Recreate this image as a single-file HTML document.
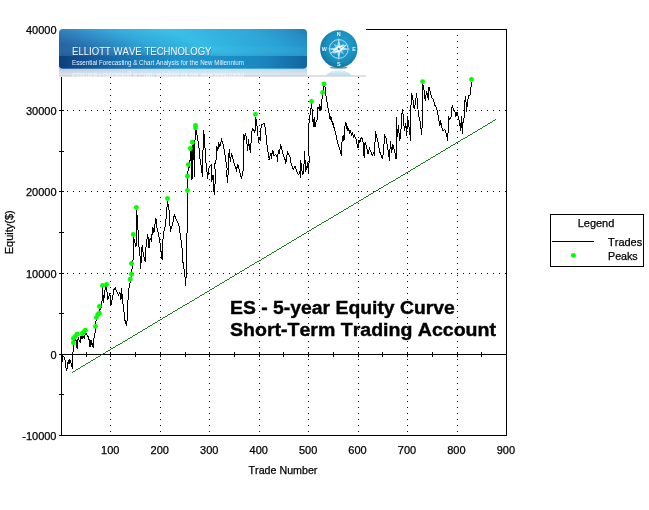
<!DOCTYPE html>
<html><head><meta charset="utf-8"><title>ES - 5-year Equity Curve</title>
<style>
html,body{margin:0;padding:0;background:#fff;}
body{width:649px;height:510px;overflow:hidden;position:relative;font-family:"Liberation Sans",Arial,sans-serif;}
svg{position:absolute;left:0;top:0;display:block}
text{font-family:"Liberation Sans",Arial,sans-serif;fill:#000;font-kerning:none}
.ax{font-size:11px;stroke:#000;stroke-width:0.25px}
.ttl{font-size:19.2px;font-weight:bold;stroke:#000;stroke-width:0.4px}
</style></head><body>
<svg width="649" height="510" viewBox="0 0 649 510">
<defs>
<linearGradient id="bg" x1="0" y1="0.35" x2="1" y2="0">
<stop offset="0" stop-color="#2464a2"/><stop offset="0.1" stop-color="#2779b6"/><stop offset="0.3" stop-color="#2ea6d9"/><stop offset="0.5" stop-color="#33bce6"/><stop offset="0.78" stop-color="#27a1d5"/><stop offset="0.92" stop-color="#1f8ac2"/><stop offset="1" stop-color="#176fa8"/>
</linearGradient>
<linearGradient id="bg2" x1="0" y1="0" x2="1" y2="0">
<stop offset="0" stop-color="#0d3f7e"/><stop offset="0.25" stop-color="#176fb0"/><stop offset="0.5" stop-color="#1f96ce"/><stop offset="0.8" stop-color="#1b88c2"/><stop offset="1" stop-color="#12669f"/>
</linearGradient>
<linearGradient id="sh" x1="0" y1="0" x2="0" y2="1">
<stop offset="0" stop-color="#ffffff" stop-opacity="0.06"/><stop offset="0.6" stop-color="#ffffff" stop-opacity="0"/><stop offset="1" stop-color="#0a3060" stop-opacity="0.12"/>
</linearGradient>
<linearGradient id="rf" x1="0" y1="0" x2="0" y2="1">
<stop offset="0" stop-color="#ffffff" stop-opacity="0.66"/><stop offset="1" stop-color="#f2f3f5" stop-opacity="0.93"/>
</linearGradient>
<radialGradient id="cg" cx="0.55" cy="0.42" r="0.6">
<stop offset="0" stop-color="#24a3cf"/><stop offset="0.65" stop-color="#1a90bf"/><stop offset="1" stop-color="#13739d"/>
</radialGradient>
</defs>

<g fill="#000" shape-rendering="crispEdges">
<line x1="110.5" y1="35" x2="110.5" y2="435" stroke="#000" stroke-width="1" stroke-dasharray="1 5"/>
<line x1="160.5" y1="35" x2="160.5" y2="435" stroke="#000" stroke-width="1" stroke-dasharray="1 5"/>
<line x1="209.5" y1="35" x2="209.5" y2="435" stroke="#000" stroke-width="1" stroke-dasharray="1 5"/>
<line x1="259.5" y1="35" x2="259.5" y2="435" stroke="#000" stroke-width="1" stroke-dasharray="1 5"/>
<line x1="308.5" y1="35" x2="308.5" y2="435" stroke="#000" stroke-width="1" stroke-dasharray="1 5"/>
<line x1="358.5" y1="35" x2="358.5" y2="435" stroke="#000" stroke-width="1" stroke-dasharray="1 5"/>
<line x1="407.5" y1="35" x2="407.5" y2="435" stroke="#000" stroke-width="1" stroke-dasharray="1 5"/>
<line x1="457.5" y1="35" x2="457.5" y2="435" stroke="#000" stroke-width="1" stroke-dasharray="1 5"/>
<line x1="67" y1="110.5" x2="506" y2="110.5" stroke="#000" stroke-width="1" stroke-dasharray="1 5"/>
<line x1="67" y1="191.5" x2="506" y2="191.5" stroke="#000" stroke-width="1" stroke-dasharray="1 5"/>
<line x1="67" y1="273.5" x2="506" y2="273.5" stroke="#000" stroke-width="1" stroke-dasharray="1 5"/>
</g>
<g stroke="#000" stroke-width="1" fill="none" shape-rendering="crispEdges">
<rect x="61.5" y="29.5" width="445" height="406"/>
<line x1="61" y1="354.5" x2="507" y2="354.5"/>
<line x1="86.5" y1="352" x2="86.5" y2="357"/>
<line x1="110.5" y1="352" x2="110.5" y2="357"/>
<line x1="135.5" y1="352" x2="135.5" y2="357"/>
<line x1="160.5" y1="352" x2="160.5" y2="357"/>
<line x1="185.5" y1="352" x2="185.5" y2="357"/>
<line x1="209.5" y1="352" x2="209.5" y2="357"/>
<line x1="234.5" y1="352" x2="234.5" y2="357"/>
<line x1="259.5" y1="352" x2="259.5" y2="357"/>
<line x1="283.5" y1="352" x2="283.5" y2="357"/>
<line x1="308.5" y1="352" x2="308.5" y2="357"/>
<line x1="333.5" y1="352" x2="333.5" y2="357"/>
<line x1="358.5" y1="352" x2="358.5" y2="357"/>
<line x1="382.5" y1="352" x2="382.5" y2="357"/>
<line x1="407.5" y1="352" x2="407.5" y2="357"/>
<line x1="432.5" y1="352" x2="432.5" y2="357"/>
<line x1="457.5" y1="352" x2="457.5" y2="357"/>
<line x1="481.5" y1="352" x2="481.5" y2="357"/>
<line x1="59" y1="29.5" x2="64" y2="29.5"/>
<line x1="59" y1="70.5" x2="64" y2="70.5"/>
<line x1="59" y1="110.5" x2="64" y2="110.5"/>
<line x1="59" y1="151.5" x2="64" y2="151.5"/>
<line x1="59" y1="191.5" x2="64" y2="191.5"/>
<line x1="59" y1="232.5" x2="64" y2="232.5"/>
<line x1="59" y1="273.5" x2="64" y2="273.5"/>
<line x1="59" y1="313.5" x2="64" y2="313.5"/>
<line x1="59" y1="354.5" x2="64" y2="354.5"/>
<line x1="59" y1="394.5" x2="64" y2="394.5"/>
<line x1="59" y1="435.5" x2="64" y2="435.5"/>
</g>
<line x1="72.3" y1="372.4" x2="496" y2="119.4" stroke="#006c00" stroke-width="0.9" shape-rendering="crispEdges"/>
<polyline points="61.9,354.6 62.2,361.6 62.7,355.8 64.2,357.3 65.0,360.4 65.5,365.8 66.5,369.7 67.3,368.1 67.7,361.6 68.3,364.3 69.2,359.3 69.9,363.5 70.6,361.6 71.6,365.0 72.3,368.5 72.7,364.3 72.9,354.2 73.4,346.7 73.7,342.4 75.3,339.9 76.2,340.5 77.1,348.5 77.7,340.5 78.3,338.0 79.3,340.5 80.5,342.4 80.8,335.6 82.4,339.3 82.7,336.2 84.2,338.4 84.8,335.3 86.1,333.4 87.3,335.3 88.5,337.1 89.1,339.9 89.8,346.7 90.4,340.5 90.7,347.3 91.6,340.5 92.2,344.8 93.5,347.6 93.7,338.4 94.7,337.4 95.0,332.8 95.5,328.2 95.3,326.5 96.3,319.3 97.6,315.6 99.4,310.7 101.3,307.0 102.2,299.6 102.5,286.0 103.5,303.3 104.3,294.7 105.2,288.5 106.2,286.0 106.6,285.4 107.2,294.7 107.7,299.6 108.7,297.1 109.9,293.4 110.9,305.1 111.7,302.1 113.0,294.7 114.2,288.5 115.4,287.9 116.7,291.6 118.5,294.7 119.8,292.2 121.0,299.6 121.6,287.9 122.5,300.8 123.5,307.0 124.7,319.3 126.5,326.1 127.2,319.3 127.8,302.1 129.0,288.5 130.2,282.3 131.5,273.7 131.7,274.4 132.3,264.5 133.3,258.3 133.6,246.0 133.3,235.5 134.5,241.6 136.0,246.6 136.6,209.6 137.9,226.8 138.5,244.1 139.7,250.3 140.7,269.4 141.6,250.3 142.2,245.3 143.4,255.2 145.3,262.0 146.1,245.3 147.7,234.2 149.0,247.8 150.2,237.9 151.4,241.6 152.7,226.8 153.9,233.0 155.8,217.6 157.0,228.1 158.2,233.0 159.5,239.2 161.3,252.7 162.2,260.2 162.5,242.9 163.8,231.8 165.0,226.8 166.2,217.0 167.5,200.9 168.7,208.3 169.3,212.0 170.3,231.8 171.8,226.8 173.0,221.9 174.3,214.5 176.1,219.4 178.0,223.1 179.2,226.8 180.4,235.5 181.7,245.3 182.9,254.0 182.3,255.9 183.5,267.0 184.7,270.7 185.4,285.5 186.0,278.1 186.6,273.1 186.8,246.0 186.6,234.2 187.2,233.0 187.2,196.0 187.5,172 188.4,170 189.6,165 190.8,152 191.5,148 192,179.7 192.6,146 193.5,143 194.5,176.6 195,140 195.7,126 195.7,128.5 197.0,134.7 198.8,145.8 200.0,159.3 201.3,166.7 202.5,177.3 203.4,130.3 204.4,135.9 205.6,159.3 206.8,169.2 207.4,178.5 209.3,166.7 210.5,165.5 211.8,164.3 211.8,181.6 213.0,174.8 214.2,194.5 215.5,178.5 214.8,164.3 216.1,159.3 216.7,145.8 217.9,150.7 218.5,142.1 219.8,147.0 221.6,139.6 223.5,145.8 224.7,153.2 225.9,161.8 227.2,169.2 226.6,172.3 227.5,182.8 228.4,169.9 228.4,159.3 229.3,149.5 230.3,161.8 231.5,153.2 232.7,158.1 234.0,163.0 235.2,166.7 236.4,170.4 237.7,164.3 239.5,171.1 241.4,178.5 243.2,169.9 243.1,162.0 243.5,134.5 244.3,139.5 245.3,132.7 246.2,137.0 246.8,141.9 247.6,150.6 248.6,139.5 249.2,145.6 250.5,153.0 251.3,137.0 252.3,128.4 253.6,129.6 254.5,133.3 255.4,128.4 255.8,117.3 256.6,122.2 257.5,129.6 258.5,143.2 259.5,137.0 260.3,140.7 261.2,124.7 262.8,124.0 264.4,123.4 265.3,128.4 266.1,135.8 267.1,145.6 268.1,153.0 269.3,159.2 269.0,159.2 270.6,154.3 271.4,156.7 272.7,149.9 273.9,155.5 275.8,154.3 277.0,156.7 277.6,162.3 278.2,150.6 279.2,154.3 280.7,144.4 281.9,149.3 283.2,154.3 284.4,158.0 285.4,160.4 285.6,164.2 287.5,151.8 288.7,154.3 290.3,158.0 290.6,161.1 291.8,165.4 293.3,169.1 294.9,166.0 296.1,169.7 297.3,172.8 298.6,174.7 299.8,171.6 300.4,178.4 300.7,160.5 301.7,167.3 302.3,174.7 303.5,173.4 304.7,151.2 305.4,171.0 306.6,169.1 307.6,162.3 308.4,173.4 309.1,161.1 308.6,132.0 309.2,119.3 310.5,111.9 311.5,103.3 312.3,111.9 313.3,126.7 314.2,116.9 315.0,126.7 316.0,121.8 317.3,119.3 317.9,107.0 319.1,109.5 319.7,104.5 321.0,110.7 321.6,102.1 322.6,94.7 323.4,88.5 324.0,84.8 325.3,87.3 326.1,97.1 327.7,105.8 329.0,113.2 330.2,118.1 331.4,119.3 332.7,123.0 333.9,126.7 335.1,130.4 329.3,114.9 330.1,119.2 330.8,116.2 331.6,120.5 332.7,122.3 334.5,128.5 336.4,137.1 338.2,144.5 340.1,150.7 341.3,155.6 341.9,143.3 342.7,136.5 343.2,140.8 343.8,135.3 344.1,139.6 345.0,126.0 345.9,122.3 346.6,128.5 347.1,126.6 348.1,131.0 348.8,129.1 349.8,132.8 350.6,131.2 351.8,135.3 352.5,133.4 353.8,137.4 354.5,135.6 356.1,139.6 357.3,145.8 358.2,148.2 358.9,139.6 359.8,143.3 360.7,138.4 361.7,137.7 362.9,140.8 364.1,157.5 365.1,142.1 366.6,147.0 368.1,154.4 369.3,148.2 370.5,150.7 372.1,155.6 373.4,153.2 374.4,155.0 375.5,131.4 376.8,137.0 378.0,141.9 379.2,149.3 380.5,154.3 382.3,158.0 383.6,153.0 384.5,134.5 386.0,138.2 387.3,145.6 388.5,153.0 389.5,161.0 390.0,149.3 390.3,140.7 391.6,153.0 392.8,144.4 394.0,149.3 395.3,154.3 396.1,159.2 396.5,117.3 397.4,137.0 398.4,124.7 399.6,140.7 400.8,135.8 401.4,116.0 402.7,109.2 403.5,121.0 404.5,130.8 405.8,123.4 406.7,135.8 407.6,116.0 408.5,124.7 409.5,128.4 410.4,140.7 410.7,109.9 411.7,93.3 412.9,99.5 414.2,109.3 415.4,103.2 416.6,93.3 417.5,103.2 418.5,115.5 419.9,119.7 420.8,127.1 421.5,135.1 422.4,122.2 422.6,109.3 422.6,83.4 424.0,89.6 425.3,101.3 426.5,90.8 428.4,100.1 429.0,87.1 430.2,92.1 431.4,97.0 433.3,99.5 434.5,104.4 436.4,108.1 437.4,111.0 438.6,118.4 439.9,125.8 440.5,119.6 441.7,127.0 442.9,130.7 444.8,129.5 446.6,134.4 447.5,140.6 448.2,130.7 448.5,116.5 449.7,119.6 451.0,117.1 451.6,109.7 452.4,105.4 453.4,110.3 454.7,111.0 455.9,116.5 456.9,112.2 458.4,117.1 459.6,122.1 460.6,130.7 461.4,115.9 462.3,133.8 462.7,122.1 463.9,122.1 464.5,102.3 465.8,96.2 466.4,111.6 467.6,102.3 468.5,95.5 470.1,94.9 470.7,90.0 470.9,88.4 471.5,81.6" fill="none" stroke="#000" stroke-width="1" stroke-linejoin="miter" shape-rendering="crispEdges"/>
<g fill="#00ff00"><circle cx="73.4" cy="342.7" r="2.45"/><circle cx="73.4" cy="338.4" r="2.45"/><circle cx="75.3" cy="336.4" r="2.45"/><circle cx="77.1" cy="334" r="2.45"/><circle cx="82.3" cy="333.5" r="2.45"/><circle cx="84" cy="331.9" r="2.45"/><circle cx="85.4" cy="330.3" r="2.45"/><circle cx="95.5" cy="326.4" r="2.45"/><circle cx="96.4" cy="317.6" r="2.45"/><circle cx="97.8" cy="314.4" r="2.45"/><circle cx="99.4" cy="313.2" r="2.45"/><circle cx="99.4" cy="306.4" r="2.45"/><circle cx="102.5" cy="285.4" r="2.45"/><circle cx="106.6" cy="284.5" r="2.45"/><circle cx="130.2" cy="279.2" r="2.45"/><circle cx="131.5" cy="274.3" r="2.45"/><circle cx="131.5" cy="263.5" r="2.45"/><circle cx="133.3" cy="234.5" r="2.45"/><circle cx="136.4" cy="207.5" r="2.45"/><circle cx="167.5" cy="198.5" r="2.45"/><circle cx="187.5" cy="190.5" r="2.45"/><circle cx="187.5" cy="176.3" r="2.45"/><circle cx="188.3" cy="164.6" r="2.45"/><circle cx="190.4" cy="148.5" r="2.45"/><circle cx="192.4" cy="142.3" r="2.45"/><circle cx="195.5" cy="127.9" r="2.45"/><circle cx="195.5" cy="125.4" r="2.45"/><circle cx="255.4" cy="114.4" r="2.45"/><circle cx="311.5" cy="101.4" r="2.45"/><circle cx="322.6" cy="92.4" r="2.45"/><circle cx="324" cy="83.9" r="2.45"/><circle cx="422.6" cy="81.6" r="2.45"/><circle cx="471.5" cy="79.5" r="2.45"/></g>
<rect x="59" y="29" width="307" height="48" fill="#fff"/>
<path d="M59 66H307V76H59Z" fill="url(#bg2)"/>
<path d="M59 66H307V76H59Z" fill="url(#rf)"/>
<rect x="59" y="75.5" width="307" height="1" fill="#c2c2c6"/>
<rect x="59" y="29" width="248" height="39.5" rx="4" ry="4" fill="url(#bg)"/>
<path d="M59 56H307V64.5a4 4 0 0 1-4 4H63a4 4 0 0 1-4-4Z" fill="url(#bg2)"/>
<rect x="59" y="29" width="248" height="27" rx="4" fill="url(#sh)"/>
<text x="72.6" y="55.8" font-size="10.6" style="fill:#0b3a6a" opacity="0.35" textLength="139.5" lengthAdjust="spacingAndGlyphs">ELLIOTT WAVE TECHNOLOGY</text>
<text x="72" y="55" font-size="10.6" style="fill:#f4fbff" textLength="139.5" lengthAdjust="spacingAndGlyphs">ELLIOTT WAVE TECHNOLOGY</text>
<text x="72" y="64.7" font-size="6.6" style="fill:#e4f2fb" textLength="172" lengthAdjust="spacingAndGlyphs">Essential Forecasting &amp; Chart Analysis for the New Millennium</text>
<g transform="translate(0,137.5) scale(1,-1)" opacity="0.75"><text x="72" y="64.7" font-size="6.6" style="fill:#ffffff" textLength="172" lengthAdjust="spacingAndGlyphs">Essential Forecasting &amp; Chart Analysis for the New Millennium</text></g>
<clipPath id="rc"><rect x="315" y="69.2" width="50" height="6.3"/></clipPath>
<linearGradient id="rg" x1="0" y1="69" x2="0" y2="76" gradientUnits="userSpaceOnUse"><stop offset="0" stop-color="#cfe8f2" stop-opacity="0.45"/><stop offset="1" stop-color="#9ccfe4" stop-opacity="0.75"/></linearGradient>
<circle cx="338.8" cy="88.7" r="18.7" fill="url(#rg)" clip-path="url(#rc)"/>
<ellipse cx="338.8" cy="67.6" rx="9" ry="1.1" fill="#1c3f50" opacity="0.55"/>
<circle cx="338.8" cy="49" r="18.7" fill="url(#cg)"/>
<circle cx="338.8" cy="49" r="9.4" fill="none" stroke="#bfe6f5" stroke-width="0.9"/>
<polygon points="344.2,43.6 341.2,49.0 344.2,54.4 338.8,51.4 333.4,54.4 336.4,49.0 333.4,43.6 338.8,46.6" fill="#86d0ec"/>
<polygon points="338.8,37.4 340.6,47.2 350.4,49.0 340.6,50.8 338.8,60.6 337.0,50.8 327.2,49.0 337.0,47.2" fill="#b4e3f6"/>
<g transform="rotate(62 338.8 49)"><polygon points="338.8,39.2 341.7,49 338.8,58.8 335.90000000000003,49" fill="#ffffff"/><line x1="338.8" y1="41.5" x2="338.8" y2="56.5" stroke="#6fa6c2" stroke-width="0.7"/></g>
<circle cx="338.8" cy="49" r="1.5" fill="#1f8ec2" stroke="#ffffff" stroke-width="0.5"/>
<text x="338.8" y="35.9" font-size="5.4" font-weight="bold" text-anchor="middle" style="fill:#eaf7fd">N</text>
<text x="354.1" y="51.3" font-size="5.4" font-weight="bold" text-anchor="middle" style="fill:#eaf7fd">E</text>
<text x="338.8" y="65.6" font-size="5.4" font-weight="bold" text-anchor="middle" style="fill:#eaf7fd">S</text>
<text x="324.2" y="51.3" font-size="5.4" font-weight="bold" text-anchor="middle" style="fill:#eaf7fd">W</text>
<text class="ax" x="56.5" y="33.5" text-anchor="end">40000</text>
<text class="ax" x="56.5" y="114.5" text-anchor="end">30000</text>
<text class="ax" x="56.5" y="195.5" text-anchor="end">20000</text>
<text class="ax" x="56.5" y="277.5" text-anchor="end">10000</text>
<text class="ax" x="56.5" y="358.5" text-anchor="end">0</text>
<text class="ax" x="56.5" y="439.5" text-anchor="end">-10000</text>
<text class="ax" x="110.3" y="454" text-anchor="middle">100</text>
<text class="ax" x="159.8" y="454" text-anchor="middle">200</text>
<text class="ax" x="209.2" y="454" text-anchor="middle">300</text>
<text class="ax" x="258.7" y="454" text-anchor="middle">400</text>
<text class="ax" x="308.1" y="454" text-anchor="middle">500</text>
<text class="ax" x="357.5" y="454" text-anchor="middle">600</text>
<text class="ax" x="407.0" y="454" text-anchor="middle">700</text>
<text class="ax" x="456.4" y="454" text-anchor="middle">800</text>
<text class="ax" x="505.9" y="454" text-anchor="middle">900</text>
<text class="ax" x="248.6" y="474" textLength="68.8" lengthAdjust="spacingAndGlyphs">Trade Number</text>
<text class="ax" transform="translate(12.8,232.3) rotate(-90)" text-anchor="middle">Equity($)</text>
<text class="ttl" x="230" y="314" textLength="224.9" lengthAdjust="spacingAndGlyphs">ES - 5-year Equity Curve</text>
<text class="ttl" x="230" y="336" textLength="266" lengthAdjust="spacingAndGlyphs">Short-Term Trading Account</text>
<rect x="550.5" y="214.5" width="93" height="52" fill="#fff" stroke="#000" stroke-width="1" shape-rendering="crispEdges"/>
<text class="ax" x="596" y="227" text-anchor="middle">Legend</text>
<line x1="552" y1="241.5" x2="594" y2="241.5" stroke="#000" stroke-width="1" shape-rendering="crispEdges"/>
<circle cx="573.4" cy="255.4" r="2.45" fill="#00ff00"/>
<text class="ax" x="608" y="246">Trades</text>
<text class="ax" x="608" y="260" textLength="29.7" lengthAdjust="spacingAndGlyphs">Peaks</text>
</svg></body></html>
